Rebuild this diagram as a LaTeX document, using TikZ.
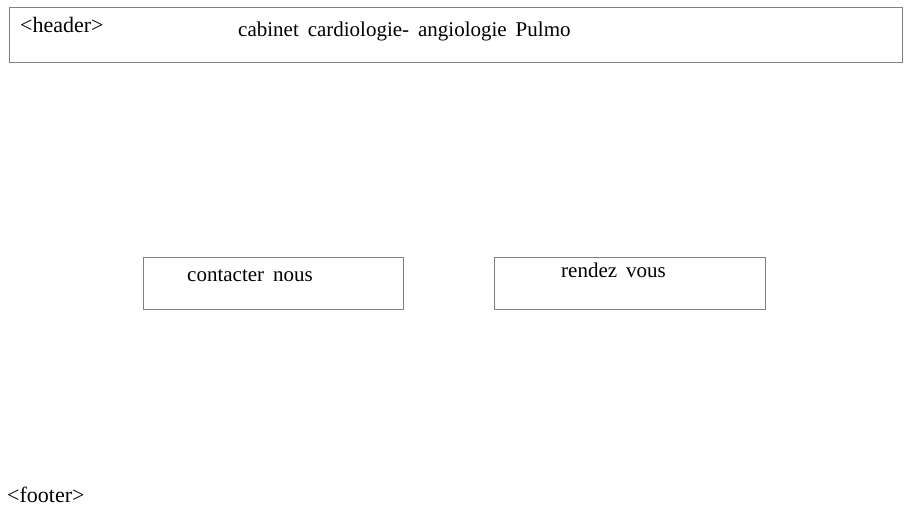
\documentclass[tikz,border=0pt]{standalone}
\usepackage{fontspec}
\setmainfont{Liberation Serif}[WordSpace=1.7]
\usepackage{xcolor}
\usetikzlibrary{positioning}
\definecolor{cFrame}{RGB}{128,128,128}

\begin{document}
\begin{tikzpicture}[x=1pt,y=-1pt,font=\fontsize{21}{24}\selectfont]
\tikzset{frame/.style={draw=cFrame,line width=1.3pt,inner sep=0pt,anchor=north west},
lbl/.style={inner sep=0pt,anchor=base west},
tag/.style={lbl,font=\fontsize{22}{25}\selectfont}}
\useasboundingbox (0,0) rectangle (915,520);
% header bar
\node[frame,minimum width=893pt,minimum height=55pt] (header) at (8.5,6.5) {};
\node[tag] (htag) at (20,32) {<header>};
\node[lbl] (title) at (238,36) {cabinet cardiologie- angiologie Pulmo};
% buttons
\node[frame,minimum width=260pt,minimum height=52pt] (contact) at (142.5,256.5) {};
\node[lbl] (contacttxt) at (187,281) {contacter nous};
\node[frame,minimum width=271pt,minimum height=52pt] (rdv) at (493.5,256.5) {};
\node[lbl] (rdvtxt) at (561,277) {rendez vous};
% footer
\node[tag] (ftag) at (7,502) {<footer>};
\end{tikzpicture}
\end{document}
